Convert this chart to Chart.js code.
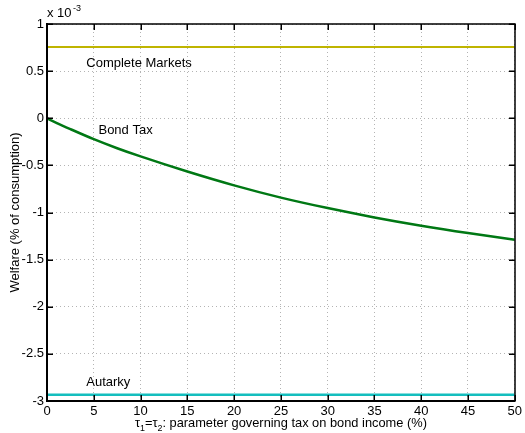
<!DOCTYPE html>
<html>
<head>
<meta charset="utf-8">
<script src="https://cdn.jsdelivr.net/npm/chart.js@4"></script>
<style>
  html, body { margin: 0; padding: 0; background: #fff; }
  #wrap { width: 525px; height: 433px; }
</style>
</head>
<body>
<div id="wrap"><canvas id="welfareChart" width="525" height="433"></canvas></div>
<script>
// tax rate (%) on bond income
const taxRates = [0, 1, 2.5, 5, 7.5, 10, 15, 20, 25, 30, 35, 40, 45, 50];
// welfare, in units of 1e-3 (% of consumption)
const bondTax = [0, -0.048, -0.115, -0.222, -0.318, -0.405, -0.565, -0.712, -0.842, -0.953, -1.052, -1.14, -1.218, -1.288];
const completeMarkets = 0.755;
const autarky = -2.933;
const xTicks = [0, 5, 10, 15, 20, 25, 30, 35, 40, 45, 50];
const yTicks = [-3, -2.5, -2, -1.5, -1, -0.5, 0, 0.5, 1];

const FONT = 'Arial, "Liberation Sans", Helvetica, sans-serif';

function flat(v) {
    return [{ x: 0, y: v }, { x: 50, y: v }];
}

// text labels, frame and inward ticks, matlab style
const matlabFrame = {
    id: 'matlabFrame',
    afterDraw(chart) {
        const c = chart.ctx;
        const area = chart.chartArea;
        const xs = chart.scales.x;
        const ys = chart.scales.y;
        c.save();
        c.fillStyle = '#000';

        // line labels
        c.font = '13px ' + FONT;
        c.textAlign = 'left';
        c.textBaseline = 'middle';
        c.fillText('Complete Markets', xs.getPixelForValue(4.2), ys.getPixelForValue(0.58));
        c.fillText('Bond Tax', xs.getPixelForValue(5.5), ys.getPixelForValue(-0.13));
        c.fillText('Autarky', xs.getPixelForValue(4.2), ys.getPixelForValue(-2.8));

        // exponent label
        c.textBaseline = 'alphabetic';
        c.font = '13px ' + FONT;
        c.fillText('x 10', area.left, 17);
        c.font = '9px ' + FONT;
        c.fillText('-3', area.left + 26, 11);

        // x label with subscripts
        const parts = [['τ', 13, 0], ['1', 9, 4], ['=τ', 13, 0], ['2', 9, 4], [': parameter governing tax on bond income (%)', 13, 0]];
        let total = 0;
        parts.forEach(p => { c.font = p[1] + 'px ' + FONT; total += c.measureText(p[0]).width; });
        const squeeze = 292 / total;
        let x = (area.left + area.right) / 2 - 292 / 2;
        parts.forEach(p => {
            c.font = (p[1] * squeeze).toFixed(2) + 'px ' + FONT;
            c.fillText(p[0], x, 427 + p[2]);
            x += c.measureText(p[0]).width;
        });

        // frame
        const l = Math.round(area.left);
        const r = Math.round(area.right);
        const yt = Math.round(area.top);
        const b = Math.round(area.bottom);
        c.setLineDash([]);
        c.strokeStyle = '#000';
        c.lineWidth = 1.5;
        c.strokeRect(l, yt, r - l, b - yt);
        c.lineWidth = 2;
        c.beginPath();
        c.moveTo(l, yt); c.lineTo(l, b); c.lineTo(r, b);
        c.stroke();

        // inward ticks
        xTicks.forEach(v => {
            const px = Math.round(xs.getPixelForValue(v));
            c.fillRect(px - 0.5, b - 6, 1.5, 6);
            c.fillRect(px - 0.5, yt, 1.5, 6);
        });
        yTicks.forEach(v => {
            const py = Math.round(ys.getPixelForValue(v));
            c.fillRect(l, py - 0.5, 6, 1.5);
            c.fillRect(r - 6, py - 0.5, 6, 1.5);
        });

        // y label
        c.translate(15, (area.top + area.bottom) / 2);
        c.rotate(-Math.PI / 2);
        c.textAlign = 'center';
        c.textBaseline = 'middle';
        c.font = '13px ' + FONT;
        c.fillText('Welfare (% of consumption)', 0, 0);
        c.restore();
    }
};

const ctx = document.getElementById('welfareChart').getContext('2d');
const welfareChart = new Chart(ctx, {
    type: 'line',
    data: {
        datasets: [
            {
                label: 'Complete Markets',
                data: flat(completeMarkets),
                borderColor: 'rgb(191, 180, 0)',
                borderWidth: 2,
                pointRadius: 0
            },
            {
                label: 'Bond Tax',
                data: taxRates.map((t, i) => ({ x: t, y: bondTax[i] })),
                borderColor: 'rgb(0, 120, 20)',
                borderWidth: 2.5,
                pointRadius: 0,
                cubicInterpolationMode: 'monotone'
            },
            {
                label: 'Autarky',
                data: flat(autarky),
                borderColor: 'rgb(20, 190, 190)',
                borderWidth: 2.5,
                pointRadius: 0
            }
        ]
    },
    options: {
        responsive: false,
        animation: false,
        layout: { padding: { top: 24, right: 7, left: 0, bottom: 0 } },
        plugins: {
            legend: { display: false },
            tooltip: { enabled: false }
        },
        scales: {
            x: {
                type: 'linear',
                min: 0,
                max: 50,
                afterBuildTicks(scale) { scale.ticks = xTicks.map(v => ({ value: v })); },
                afterFit(scale) { scale.height = 32; },
                grid: { color: '#b4b4b4', drawTicks: false, lineWidth: 1 },
                border: { display: true, color: '#000', width: 2, dash: [1, 3] },
                ticks: { color: '#000', padding: 3, maxRotation: 0, font: { family: FONT, size: 13 } }
            },
            y: {
                type: 'linear',
                min: -3,
                max: 1,
                afterBuildTicks(scale) { scale.ticks = yTicks.map(v => ({ value: v })); },
                afterFit(scale) { scale.width = 47; },
                grid: { color: '#b4b4b4', drawTicks: false, lineWidth: 1 },
                border: { display: true, color: '#000', width: 2, dash: [1, 3] },
                ticks: {
                    color: '#000',
                    padding: 3,
                    font: { family: FONT, size: 13 },
                    callback: v => String(v)
                }
            }
        }
    },
    plugins: [matlabFrame]
});
</script>
</body>
</html>
